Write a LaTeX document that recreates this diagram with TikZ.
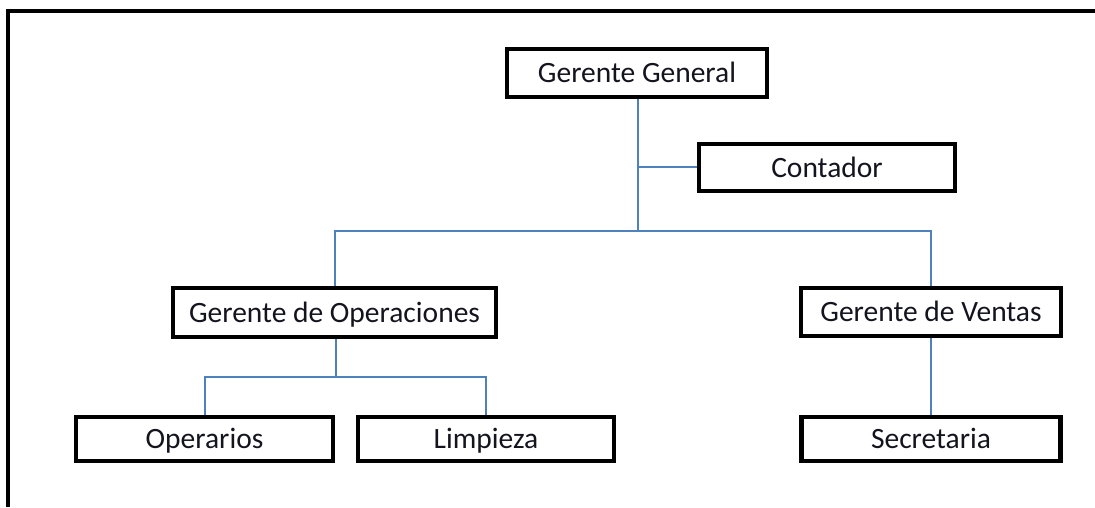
\documentclass[tikz,border=0pt]{standalone}
\usepackage{fontspec}
\setmainfont{Carlito}
\definecolor{connblue}{RGB}{79,129,189}
\definecolor{textdark}{RGB}{20,20,30}
\begin{document}
\begin{tikzpicture}[x=1pt,y=1pt,
  box/.style={draw=black, line width=4.5pt, fill=white, inner sep=0pt,
    minimum height=48pt, text=textdark, text height=19pt, text depth=0pt,
    font=\fontsize{29.5}{35}\selectfont},
  conn/.style={draw=connblue, line width=2pt},
  frame/.style={draw=black, line width=4pt}]
\useasboundingbox (0,0) rectangle (1095,507);
% outer frame (open to the right and bottom)
\draw[frame] (8,0) -- (8,495.5) -- (1095,495.5);
% boxes
\node[box, minimum width=260pt] (gg) at (637,434) {Gerente General};
\node[box, minimum width=256pt, minimum height=47pt] (cont) at (827,339.5) {Contador};
\node[box, minimum width=323pt, minimum height=49pt] (gop) at (334.5,194.5) {Gerente de Operaciones};
\node[box, minimum width=260pt] (gv) at (931,195) {Gerente de Ventas};
\node[box, minimum width=257pt, minimum height=44pt] (oper) at (204.5,68) {Operarios};
\node[box, minimum width=256pt, minimum height=44pt] (limp) at (486,68) {Limpieza};
\node[box, minimum width=259pt, minimum height=44pt] (sec) at (931,68) {Secretaria};
% bus coordinates
\coordinate (bus) at (638,276);
\coordinate (subbus) at (336,130);
% connectors
\draw[conn] (gg.south -| bus) -- (bus);
\draw[conn] (bus |- cont.west) -- (cont.west);
\draw[conn] (gop.north) -- (gop.north |- bus) -- (gv.north |- bus) -- (gv.north);
\draw[conn] (gop.south -| subbus) -- (subbus);
\draw[conn] (oper.north) -- (oper.north |- subbus) -- (limp.north |- subbus) -- (limp.north);
\draw[conn] (gv.south) -- (sec.north);
\end{tikzpicture}
\end{document}
